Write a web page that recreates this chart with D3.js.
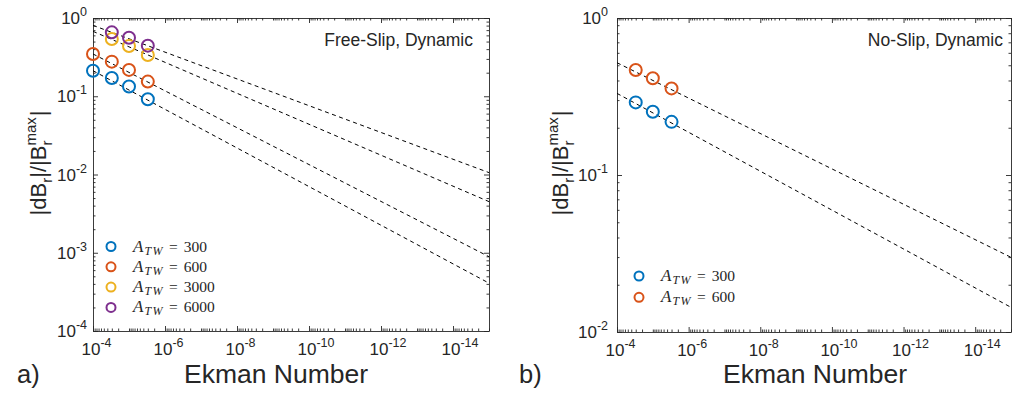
<!DOCTYPE html>
<html><head><meta charset="utf-8">
<script src="https://cdn.jsdelivr.net/npm/d3@7"></script>
<style>
body{margin:0;background:#fff}
svg{display:block}
text{font-family:"Liberation Sans",Arial,Helvetica,sans-serif;fill:#262626}
.lg{font-family:"Liberation Serif","DejaVu Serif",serif;fill:#262626}
</style>
</head><body><svg id="c" width="1012" height="396"></svg>
<script>
// ---------- data ----------
const ekmanA = [1e-4, 3e-5, 1e-5, 3e-6];
const ekmanB = [3e-5, 1e-5, 3e-6];
const freeSlip300  = [0.212, 0.171, 0.133, 0.0916];
const freeSlip600  = [0.347, 0.277, 0.217, 0.154];
const freeSlip3000 = [null, 0.54, 0.439, 0.337];
const freeSlip6000 = [null, 0.656, 0.56, 0.443];
const fitEnds = [1e-4, 1e-15];
const freeSlipFit300  = [0.212, 4.09e-4];
const freeSlipFit600  = [0.347, 8.9e-4];
const freeSlipFit3000 = [0.675, 0.0045];
const freeSlipFit6000 = [0.805, 0.01057];
const noSlip300 = [0.29, 0.253, 0.218];
const noSlip600 = [0.466, 0.413, 0.356];
const noSlipFit300 = [0.331, 0.01436];
const noSlipFit600 = [0.519, 0.0299];
const legendA = ["300", "600", "3000", "6000"];
const legendB = ["300", "600"];
const xTickExps = [-4, -6, -8, -10, -12, -14];
const yTickExpsA = [0, -1, -2, -3, -4];
const yTickExpsB = [0, -1, -2];
const colors = ["#0072BD", "#D95319", "#EDB120", "#7E2F8E"];

const svg = d3.select("#c");

function minorTicks(loExp, hiExp) {
  const out = [];
  for (let k = loExp; k < hiExp; k++) for (let m = 2; m <= 9; m++) out.push(m * Math.pow(10, k));
  return out;
}

function panel(cfg) {
  const x = d3.scaleLog().domain([1e-4, 1e-15]).range([cfg.x0, cfg.x1]);
  const y = d3.scaleLog().domain(cfg.yDomain).range([cfg.y1, cfg.y0]);
  const g = svg.append("g");

  // axes (inward ticks, box)
  const xMajor = xTickExps.map(e => Math.pow(10, e));
  const xMinor = minorTicks(-15, -4).concat([-5, -7, -9, -11, -13, -15].map(e => Math.pow(10, e)));
  const yLo = Math.round(Math.log10(cfg.yDomain[0]));
  const yMajor = cfg.yTicks.map(e => Math.pow(10, e));
  const yMinor = minorTicks(yLo, 0);
  const ax = [
    [d3.axisBottom(x), `translate(0,${cfg.y1})`, xMajor, xMinor],
    [d3.axisTop(x), `translate(0,${cfg.y0})`, xMajor, xMinor],
    [d3.axisLeft(y), `translate(${cfg.x0},0)`, yMajor, yMinor],
    [d3.axisRight(y), `translate(${cfg.x1},0)`, yMajor, yMinor]
  ];
  ax.forEach(([a, tr, maj, min]) => {
    const ga = g.append("g").attr("transform", tr)
      .call(a.tickValues(maj).tickSizeInner(-5).tickSizeOuter(0).tickFormat(""));
    const gm = g.append("g").attr("transform", tr)
      .call(a.tickValues(min).tickSizeInner(-2.5).tickSizeOuter(0).tickFormat(""));
    gm.select(".domain").remove();
    [ga, gm].forEach(s => { s.selectAll("path,line").attr("stroke", "#262626").attr("stroke-width", 0.9); });
  });

  // tick labels
  xTickExps.forEach(e => {
    const t = g.append("text").attr("x", x(Math.pow(10, e)) - 11.5).attr("y", cfg.y1 + 24)
      .attr("font-size", 17);
    t.append("tspan").text("10");
    t.append("tspan").attr("font-size", 12.5).attr("dy", -8).text(String(e));
  });
  cfg.yTicks.forEach(e => {
    const t = g.append("text").attr("x", cfg.x0 - cfg.yLabGap).attr("y", y(Math.pow(10, e)) + 6)
      .attr("text-anchor", "end").attr("font-size", 17);
    t.append("tspan").text("10");
    t.append("tspan").attr("font-size", 12.5).attr("dy", -8).text(String(e));
  });

  // fit lines
  const line = d3.line().x(d => x(d[0])).y(d => y(d[1]));
  cfg.fits.forEach(f => {
    g.append("path").attr("d", line(fitEnds.map((e, i) => [e, f[i]])))
      .attr("fill", "none").attr("stroke", "#000").attr("stroke-width", 1)
      .attr("stroke-dasharray", "4,3.5");
  });

  // points
  cfg.series.forEach((s, si) => {
    g.selectAll(null).data(s.E.map((e, i) => [e, s.v[i]]).filter(d => d[1] != null))
      .join("circle").attr("cx", d => x(d[0])).attr("cy", d => y(d[1])).attr("r", 6)
      .attr("fill", "none").attr("stroke", colors[si]).attr("stroke-width", 2);
  });

  // legend
  cfg.legend.forEach((lab, i) => {
    const ly = cfg.legY + i * cfg.legStep;
    g.append("circle").attr("cx", cfg.legX).attr("cy", ly).attr("r", 4.5)
      .attr("fill", "none").attr("stroke", colors[i]).attr("stroke-width", 2);
    const t = g.append("text").attr("class", "lg").attr("x", cfg.legX + 22).attr("y", ly + 5).attr("font-size", 15.5);
    t.append("tspan").attr("font-style", "italic").attr("font-size", 17).text("A");
    t.append("tspan").attr("font-style", "italic").attr("font-size", 12).attr("dx", 1)
      .attr("dy", 3).attr("letter-spacing", 1.5).text("TW");
    t.append("tspan").attr("dx", 5).attr("dy", -3).text("=");
    t.append("tspan").attr("dx", 6).text(lab);
  });

  // title in plot
  g.append("text").attr("x", cfg.titleX).attr("y", 46).attr("text-anchor", "end")
    .attr("font-size", 17.5).text(cfg.title);

  // x label
  g.append("text").attr("x", cfg.xLabX).attr("y", 383).attr("text-anchor", "middle")
    .attr("font-size", 26.5).text("Ekman Number");
  // panel label
  g.append("text").attr("x", cfg.panelX).attr("y", 383).attr("font-size", 25.5).text(cfg.panel);

  // y label
  const yl = g.append("g").attr("transform", `translate(${cfg.yLabX},${cfg.yLabY}) rotate(-90)`);
  const inner = yl.append("g");
  let xpos = 0;
  const add = (t, size, dy) => {
    const el = inner.append("text").attr("x", xpos).attr("y", dy).attr("font-size", size).text(t);
    const w = el.node().getComputedTextLength();
    xpos += w; return w;
  };
  add("|dB", 22, 0); add("r", 15, 6); add("|/|B", 22, 0);
  const xs = xpos; const w1 = add("max", 15, -10); xpos = xs; const w2 = add("r", 15, 6);
  xpos = xs + Math.max(w1, w2) + 1; add("|", 22, 0);
  inner.attr("transform", `translate(${-xpos / 2},0)`);
}

panel({
  x0: 93, x1: 489, y0: 18, y1: 331, yDomain: [1e-4, 1], yTicks: yTickExpsA, yLabGap: 6,
  fits: [freeSlipFit300, freeSlipFit600, freeSlipFit3000, freeSlipFit6000],
  series: [
    {E: ekmanA, v: freeSlip300}, {E: ekmanA, v: freeSlip600},
    {E: ekmanA, v: freeSlip3000}, {E: ekmanA, v: freeSlip6000}
  ],
  legend: legendA, legX: 111, legY: 246.5, legStep: 20.3,
  title: "Free-Slip, Dynamic", titleX: 473,
  xLabX: 276, panelX: 17, panel: "a)", yLabX: 46, yLabY: 163
});
panel({
  x0: 617, x1: 1011, y0: 18, y1: 332, yDomain: [1e-2, 1], yTicks: yTickExpsB, yLabGap: 9,
  fits: [noSlipFit300, noSlipFit600],
  series: [{E: ekmanB, v: noSlip300}, {E: ekmanB, v: noSlip600}],
  legend: legendB, legX: 639, legY: 276, legStep: 21.3,
  title: "No-Slip, Dynamic", titleX: 1003,
  xLabX: 815, panelX: 519, panel: "b)", yLabX: 568, yLabY: 163
});
</script>
</body></html>
